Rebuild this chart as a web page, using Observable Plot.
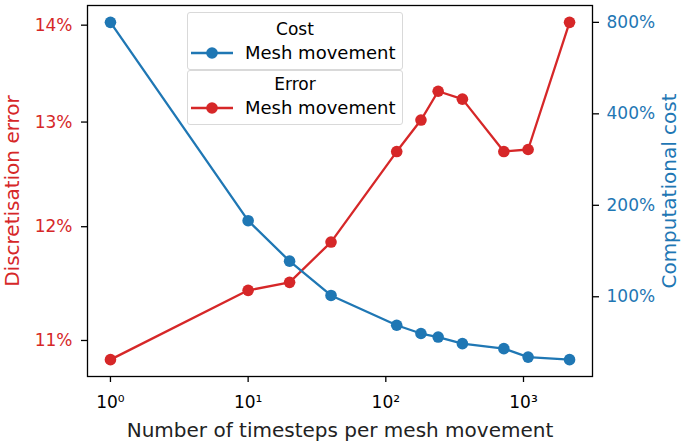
<!DOCTYPE html>
<html>
<head>
<meta charset="utf-8">
<script src="https://cdn.jsdelivr.net/npm/d3@7"></script>
<script src="https://cdn.jsdelivr.net/npm/@observablehq/plot@0.6"></script>
<style>
  html, body { margin: 0; padding: 0; background: #fff; }
  #wrap { position: relative; width: 685px; height: 447px; font-family: "DejaVu Sans", sans-serif; }
  #wrap > svg { position: absolute; left: 0; top: 0; }
  .lg { position: absolute; left: 187px; width: 216px; border: 1px solid #d9d9d9; border-radius: 3px; background: rgba(255,255,255,0.8); box-sizing: border-box; }
  .lg .t { position: absolute; left: 0; width: 100%; text-align: center; font-size: 17px; line-height: 20px; color: #000; }
  .lg .e { position: absolute; left: 57px; font-size: 18px; line-height: 20px; color: #000; white-space: nowrap; }
  .lg svg { position: absolute; left: 2px; }
</style>
</head>
<body>
<div id="wrap"></div>
<script>
// ---- data ----
const steps = [1, 10, 20, 40, 120, 180, 240, 360, 720, 1080, 2160];
const errorPct = [10.84, 11.43, 11.50, 11.86, 12.71, 13.02, 13.31, 13.23, 12.71, 12.73, 14.03];
const costPct = [800, 178, 131, 101, 80.6, 75.7, 73.7, 70.1, 67.5, 63.3, 62.1];
const xTicks = [1, 10, 100, 1000];
const xTickLabels = ["10\u2070", "10\u00B9", "10\u00B2", "10\u00B3"];
const errTicks = [11, 12, 13, 14];
const costTicks = [100, 200, 400, 800];
const xLabel = "Number of timesteps per mesh movement";
const errLabel = "Discretisation error";
const costLabel = "Computational cost";
const legendTitles = ["Cost", "Error"];
const legendEntry = "Mesh movement";

const RED = "#d62728", BLUE = "#1f77b4";

// matplotlib-like 5% margins in log space
function logDomain(vals) {
  const lo = Math.log10(d3.min(vals)), hi = Math.log10(d3.max(vals));
  const m = (hi - lo) * 0.05;
  return [Math.pow(10, lo - m), Math.pow(10, hi + m)];
}
const xDomain = logDomain(steps);
const errDomain = logDomain(errorPct);
const costDomain = logDomain(costPct);

const rows = steps.map((s, i) => ({steps: s, error: errorPct[i], cost: costPct[i]}));

const common = {
  width: 685, height: 447,
  marginLeft: 87, marginRight: 93, marginTop: 5, marginBottom: 71,
  style: {fontFamily: "DejaVu Sans, sans-serif", fontSize: "17px", background: "transparent", overflow: "visible"}
};

const p1 = Plot.plot({
  ...common,
  x: {type: "log", domain: xDomain, axis: null},
  y: {type: "log", domain: errDomain, axis: null},
  marks: [
    Plot.axisX(xTicks, {tickFormat: d => xTickLabels[xTicks.indexOf(d)], tickSize: 6, tickPadding: 13,
      stroke: "black", fill: "black", strokeWidth: 1.3, label: null, fontSize: 17}),
    Plot.axisY(errTicks, {anchor: "left", tickFormat: d => d + "%", tickSize: 6, tickPadding: 9,
      stroke: "black", fill: RED, strokeWidth: 1.3, label: null, fontSize: 17}),
    Plot.text([xLabel], {frameAnchor: "bottom", dy: 54, lineAnchor: "middle", fontSize: 20, fill: "#222"}),
    Plot.text([errLabel], {frameAnchor: "left", dx: -75, rotate: -90, textAnchor: "middle", lineAnchor: "middle", fontSize: 20, fill: RED}),
    Plot.line(rows, {x: "steps", y: "error", stroke: RED, strokeWidth: 2.3}),
    Plot.dot(rows, {x: "steps", y: "error", r: 5.8, fill: RED}),
    Plot.frame({stroke: "black", strokeWidth: 1.3})
  ]
});

const p2 = Plot.plot({
  ...common,
  x: {type: "log", domain: xDomain, axis: null},
  y: {type: "log", domain: costDomain, axis: null},
  marks: [
    Plot.axisY(costTicks, {anchor: "right", tickFormat: d => d + "%", tickSize: 6, tickPadding: 8,
      stroke: "black", fill: BLUE, strokeWidth: 1.3, label: null, fontSize: 17}),
    Plot.text([costLabel], {frameAnchor: "right", dx: 77, rotate: -90, textAnchor: "middle", lineAnchor: "middle", fontSize: 20, fill: BLUE}),
    Plot.line(rows, {x: "steps", y: "cost", stroke: BLUE, strokeWidth: 2.3}),
    Plot.dot(rows, {x: "steps", y: "cost", r: 5.8, fill: BLUE})
  ]
});

const wrap = document.getElementById("wrap");
wrap.appendChild(p1);
wrap.appendChild(p2);

// legend boxes (HTML, matplotlib-style)
function legendBox(top, height, title, color, titleY, rowY) {
  const box = document.createElement("div");
  box.className = "lg";
  box.style.top = top + "px";
  box.style.height = height + "px";
  const t = document.createElement("div");
  t.className = "t"; t.textContent = title; t.style.top = (titleY - 10) + "px";
  box.appendChild(t);
  const svgNS = "http://www.w3.org/2000/svg";
  const s = document.createElementNS(svgNS, "svg");
  s.setAttribute("width", 44); s.setAttribute("height", 14);
  s.style.top = (rowY - 7) + "px";
  const ln = document.createElementNS(svgNS, "line");
  ln.setAttribute("x1", 1); ln.setAttribute("x2", 43); ln.setAttribute("y1", 7); ln.setAttribute("y2", 7);
  ln.setAttribute("stroke", color); ln.setAttribute("stroke-width", 2.3);
  const c = document.createElementNS(svgNS, "circle");
  c.setAttribute("cx", 22); c.setAttribute("cy", 7); c.setAttribute("r", 5.8); c.setAttribute("fill", color);
  s.appendChild(ln); s.appendChild(c);
  box.appendChild(s);
  const e = document.createElement("div");
  e.className = "e"; e.textContent = legendEntry; e.style.top = (rowY - 10) + "px";
  box.appendChild(e);
  wrap.appendChild(box);
}
legendBox(12, 58, legendTitles[0], BLUE, 16, 40);
legendBox(70, 55, legendTitles[1], RED, 13, 37);
</script>
</body>
</html>
